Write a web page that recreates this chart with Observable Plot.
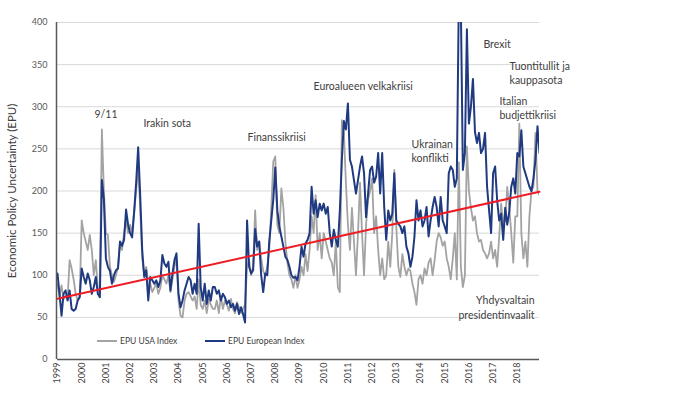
<!DOCTYPE html>
<html><head><meta charset="utf-8">
<script src="https://cdn.jsdelivr.net/npm/d3@7"></script>
<script src="https://cdn.jsdelivr.net/npm/@observablehq/plot@0.6"></script>
<style>
html,body{margin:0;padding:0;background:#fff;}
#chart{position:relative;width:700px;height:394px;font-family:Lato,"Open Sans",sans-serif;}
.legend{position:absolute;font-size:8.5px;color:#404040;display:flex;align-items:center;white-space:nowrap;line-height:10px}
.legend .sw{display:inline-block;width:20px;height:0;border-top:2px solid;margin-right:3px}
</style></head><body><div id="chart"></div>
<script>
// ---------- data ----------
const startYear = 1999;
const yearLabels = [1999,2000,2001,2002,2003,2004,2005,2006,2007,2008,2009,2010,2011,2012,2013,2014,2015,2016,2017,2018];
const yTicks = [0,50,100,150,200,250,300,350,400];
const seriesNames = ["EPU USA Index", "EPU European Index"];

// monthly values, 240 months
const usaIndex = [
  90,75,88,72,75,72,118,108,95,78,70,75,
  165,150,140,130,148,130,100,118,85,80,273,200,
  150,148,110,100,92,100,110,138,130,150,165,150,
  160,150,175,200,228,180,120,100,110,85,90,80,
  85,90,78,85,100,95,90,100,80,95,110,120,
  70,52,50,70,78,80,75,70,75,60,95,65,
  60,70,55,72,65,60,60,70,55,75,60,70,
  65,58,72,60,55,68,62,55,60,65,110,118,
  100,110,177,130,140,120,105,100,110,130,180,235,
  241,160,150,203,180,140,115,100,95,85,100,85,
  95,110,100,125,105,130,170,150,195,130,150,120,
  150,140,130,120,115,100,140,86,80,284,270,210,
  160,130,180,140,100,150,210,150,100,160,190,200,
  215,150,170,130,100,120,95,100,140,110,150,225,
  157,110,98,125,110,100,108,105,90,80,65,95,
  100,90,108,100,115,120,100,118,140,150,145,135,
  140,120,110,95,120,150,95,234,110,86,100,253,
  200,180,165,170,150,140,142,130,126,120,126,140,
  120,130,110,145,185,160,165,205,180,150,115,170,
  170,280,150,120,140,110,170,200,205,269,200,195
];
const europeanIndex = [
  102,78,52,78,82,70,82,60,58,60,70,74,
  108,98,90,102,94,78,86,98,78,74,213,190,
  120,110,105,90,100,106,108,140,135,142,178,160,
  150,145,175,210,252,195,130,98,106,70,98,94,
  90,94,86,94,124,114,110,116,82,102,118,126,
  78,62,70,82,90,98,94,78,90,78,161,86,
  70,90,66,82,70,86,86,78,82,70,78,74,
  66,70,62,66,58,66,54,62,54,44,165,110,
  102,106,155,134,140,100,80,102,100,140,165,190,
  228,177,158,146,134,122,118,110,100,97,98,94,
  110,134,122,138,142,150,205,173,189,169,185,177,
  185,173,181,150,134,154,142,134,177,237,283,273,
  304,237,229,213,197,213,229,241,221,169,197,225,
  229,210,217,245,197,245,181,142,177,165,173,221,
  165,161,158,150,158,134,126,110,122,146,189,165,
  177,158,165,181,146,165,181,193,181,158,193,165,
  158,150,221,229,225,205,215,430,420,225,245,392,
  280,300,333,270,257,269,245,250,269,205,177,150,
  221,229,189,165,173,142,180,160,175,205,215,197,
  245,241,272,229,221,213,205,200,215,237,277,245
];
const trendStartEnd = [72, 199];

// annotation texts with anchor (year, index value)
const annotationTexts = ["9/11","Irakin sota","Finanssikriisi","Euroalueen velkakriisi","Ukrainan","konflikti","Brexit","Tuontitullit ja","kauppasota","Italian","budjettikriisi","Yhdysvaltain","presidentinvaalit"];
const annotationYears = [2000.53,2002.55,2006.85,2009.58,2013.63,2013.63,2016.6,2017.68,2017.68,2017.26,2017.26,2018.71,2018.71];
const annotationValues = [291,280,263,324,255,239,374,348,331,306,290,70,52];
const annotationAnchors = ["start","start","start","start","start","start","start","start","start","start","start","end","end"];

// ---------- build ----------
const months = usaIndex.length;
const t = i => startYear + i / 12;
const usaRows = usaIndex.map((v, i) => ({t: t(i), v}));
const euRows = europeanIndex.map((v, i) => ({t: t(i), v}));
const trend = [{t: t(0), v: trendStartEnd[0]}, {t: t(months - 1), v: trendStartEnd[1]}];
const annotations = annotationTexts.map((text, i) => ({text, x: annotationYears[i], y: annotationValues[i], a: annotationAnchors[i]}));

const colors = {[seriesNames[0]]: "#a3a3a3", [seriesNames[1]]: "#1f3a80"};

const plot = Plot.plot({
  width: 700,
  height: 394,
  marginLeft: 57,
  marginRight: 161,
  marginTop: 22,
  marginBottom: 35,
  style: {fontFamily: "Lato, 'Open Sans', sans-serif", fontSize: "9px", color: "#404040", background: "transparent", overflow: "visible"},
  x: {domain: [t(0), t(months - 1)], axis: null},
  y: {domain: [0, 400], axis: null},
  marks: [
    Plot.gridY(yTicks, {stroke: "#d9d9d9", strokeOpacity: 1}),
    Plot.axisY(yTicks, {tickSize: 0, tickPadding: 10, label: null, fill: "#595959", fontSize: 9}),
    Plot.text(yearLabels, {x: d => d, y: () => 0, text: d => String(d), rotate: -90, textAnchor: "end", dy: 3, fill: "#404040", fontSize: 9}),
    Plot.line(usaRows, {x: "t", y: "v", stroke: colors[seriesNames[0]], strokeWidth: 1.8, clip: true}),
    Plot.line(euRows, {x: "t", y: "v", stroke: colors[seriesNames[1]], strokeWidth: 2, clip: true}),
    Plot.line(trend, {x: "t", y: "v", stroke: "#ee1c25", strokeWidth: 2}),
    Plot.ruleY([0], {stroke: "#595959", strokeWidth: 1.5}),
    Plot.ruleX([t(0)], {stroke: "#595959", strokeWidth: 1.5, dx: -1}),
    Plot.text(annotations.filter(d => d.a === "start"), {x: "x", y: "y", text: "text", textAnchor: "start", fontSize: 10.5, fill: "#404040"}),
    Plot.text(annotations.filter(d => d.a === "end"), {x: "x", y: "y", text: "text", textAnchor: "end", fontSize: 10.5, fill: "#404040"}),
    Plot.text(["Economic Policy Uncertainty (EPU)"], {frameAnchor: "left", rotate: -90, textAnchor: "middle", dx: -45, fontSize: 11.5, fill: "#404040"})
  ]
});
const chart = document.getElementById("chart");
chart.appendChild(plot);

// legend overlay
const legendPos = [[97, 336], [205, 336]];
seriesNames.forEach((name, i) => {
  const div = document.createElement("div");
  div.className = "legend";
  div.style.left = legendPos[i][0] + "px";
  div.style.top = legendPos[i][1] + "px";
  div.innerHTML = `<span class="sw" style="border-color:${colors[name]}"></span>${name}`;
  chart.appendChild(div);
});
</script></body></html>
